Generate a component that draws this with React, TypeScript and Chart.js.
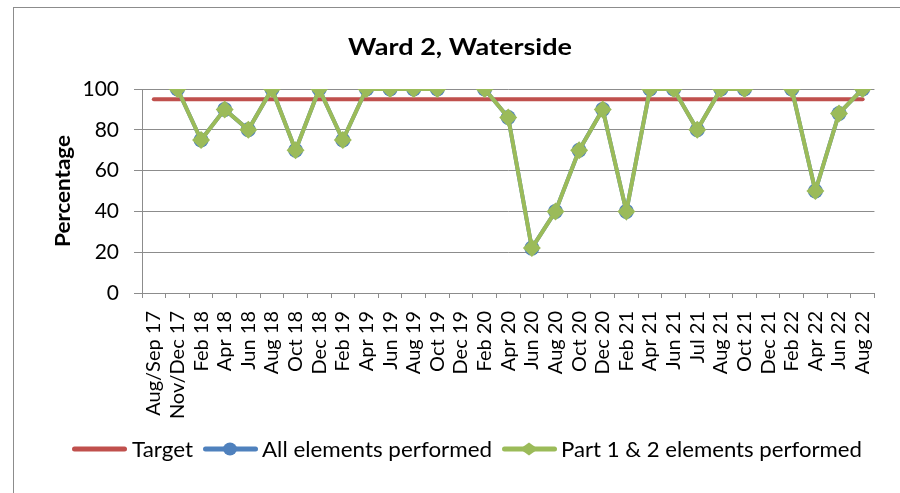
import React, { useEffect, useRef } from 'react';
import { Chart, registerables } from 'chart.js';

Chart.register(...registerables);

const chartTitle = 'Ward 2, Waterside';
const yAxisTitle = 'Percentage';

const categories = [
  'Aug/Sep 17', 'Nov/Dec 17', 'Feb 18', 'Apr 18', 'Jun 18', 'Aug 18', 'Oct 18', 'Dec 18',
  'Feb 19', 'Apr 19', 'Jun 19', 'Aug 19', 'Oct 19', 'Dec 19', 'Feb 20', 'Apr 20',
  'Jun 20', 'Aug 20', 'Oct 20', 'Dec 20', 'Feb 21', 'Apr 21', 'Jun 21', 'Jul 21',
  'Aug 21', 'Oct 21', 'Dec 21', 'Feb 22', 'Apr 22', 'Jun 22', 'Aug 22',
];

const targetValues = [
  95, 95, 95, 95, 95, 95, 95, 95, 95, 95, 95, 95, 95, 95, 95, 95,
  95, 95, 95, 95, 95, 95, 95, 95, 95, 95, 95, 95, 95, 95, 95,
];

const allElementsValues: (number | null)[] = [
  null, 100, 75, 90, 80, 100, 70, 100, 75, 100, 100, 100, 100, null, 100, 86,
  22, 40, 70, 90, 40, 100, 100, 80, 100, 100, null, 100, 50, 88, 100,
];

const part12Values: (number | null)[] = [
  null, 100, 75, 90, 80, 100, 70, 100, 75, 100, 100, 100, 100, null, 100, 86,
  22, 40, 70, 90, 40, 100, 100, 80, 100, 100, null, 100, 50, 88, 100,
];

const yTickValues = [0, 20, 40, 60, 80, 100];

const legendLabels = ['Target', 'All elements performed', 'Part 1 & 2 elements performed'];

const RED = '#C0504D';
const BLUE = '#4F81BD';
const GREEN = '#9BBB59';
const GRID = '#8C8C8C';

function fitText(ctx: CanvasRenderingContext2D, text: string, x: number, y: number, width: number) {
  const w = ctx.measureText(text).width;
  ctx.save();
  ctx.translate(x, y);
  ctx.scale(width / w, 1);
  ctx.fillText(text, 0, 0);
  ctx.restore();
}

const decorPlugin = {
  id: 'decor',
  afterDraw(chart: any) {
    const ctx: CanvasRenderingContext2D = chart.ctx;
    ctx.save();
    // outer border
    ctx.strokeStyle = GRID;
    ctx.lineWidth = 1;
    ctx.strokeRect(13.5, 7.5, 1000, 1000);

    // title
    ctx.fillStyle = '#000';
    ctx.font = 'bold 23px Lato';
    ctx.textAlign = 'center';
    ctx.textBaseline = 'alphabetic';
    fitText(ctx, chartTitle, 460, 55, 224);

    // y-axis title
    ctx.save();
    ctx.translate(70, 191);
    ctx.rotate(-Math.PI / 2);
    ctx.font = 'bold 20px Lato';
    ctx.textAlign = 'center';
    ctx.textBaseline = 'alphabetic';
    fitText(ctx, yAxisTitle, 0, 0, 112);
    ctx.restore();

    // legend
    const items = [
      { label: legendLabels[0], color: RED, marker: 'none', lineX: 72, textX: 132, textW: 61 },
      { label: legendLabels[1], color: BLUE, marker: 'circle', lineX: 203, textX: 262, textW: 230 },
      { label: legendLabels[2], color: GREEN, marker: 'diamond', lineX: 502, textX: 561, textW: 301 },
    ];
    const ly = 449;
    ctx.font = '22px Lato';
    ctx.textAlign = 'left';
    ctx.textBaseline = 'alphabetic';
    items.forEach((it) => {
      ctx.strokeStyle = it.color;
      ctx.lineWidth = 5;
      ctx.lineCap = 'round';
      ctx.beginPath();
      ctx.moveTo(it.lineX + 2.5, ly);
      ctx.lineTo(it.lineX + 52.5, ly);
      ctx.stroke();
      const cx = it.lineX + 27;
      ctx.fillStyle = it.color;
      if (it.marker === 'circle') {
        ctx.beginPath();
        ctx.ellipse(cx, ly, 7, 6.5, 0, 0, Math.PI * 2);
        ctx.fill();
      } else if (it.marker === 'diamond') {
        ctx.beginPath();
        ctx.moveTo(cx, ly - 6.5);
        ctx.lineTo(cx + 9, ly);
        ctx.lineTo(cx, ly + 6.5);
        ctx.lineTo(cx - 9, ly);
        ctx.closePath();
        ctx.fill();
      }
      ctx.fillStyle = '#000';
      fitText(ctx, it.label, it.textX, ly + 7.5, it.textW);
    });
    ctx.restore();
  },
};

export default function App() {
  const canvasRef = useRef<HTMLCanvasElement | null>(null);

  useEffect(() => {
    if (!canvasRef.current) return;
    const chart = new Chart(canvasRef.current, {
      type: 'line',
      data: {
        labels: categories,
        datasets: [
          {
            label: legendLabels[0],
            data: targetValues,
            borderColor: RED,
            backgroundColor: RED,
            borderWidth: 4,
            pointRadius: 0,
            borderCapStyle: 'round',
            order: 3,
          },
          {
            label: legendLabels[1],
            data: allElementsValues,
            borderColor: BLUE,
            backgroundColor: BLUE,
            borderWidth: 4,
            pointRadius: 7.5,
            pointStyle: 'circle',
            pointBorderWidth: 0,
            spanGaps: false,
            order: 2,
          },
          {
            label: legendLabels[2],
            data: part12Values,
            borderColor: GREEN,
            backgroundColor: GREEN,
            borderWidth: 4,
            borderJoinStyle: 'round',
            pointRadius: 9,
            pointStyle: 'rectRot',
            pointBorderWidth: 0,
            spanGaps: false,
            order: 1,
          },
        ],
      },
      options: {
        responsive: false,
        animation: false,
        layout: { padding: { left: 13, top: 89, right: 23, bottom: 40 } },
        plugins: {
          legend: { display: false },
          title: { display: false },
          tooltip: { enabled: false },
        },
        scales: {
          x: {
            offset: true,
            grid: {
              offset: true,
              drawOnChartArea: false,
              drawTicks: true,
              tickLength: 5,
              color: GRID,
            },
            border: { display: true, color: GRID },
            ticks: {
              autoSkip: false,
              maxRotation: 90,
              minRotation: 90,
              padding: 13,
              color: '#000',
              font: { family: 'Lato', size: 20 },
            },
            afterFit: (scale: any) => {
              scale.height = 160;
            },
          },
          y: {
            min: 0,
            max: 100,
            afterBuildTicks: (scale: any) => {
              scale.ticks = yTickValues.map((v) => ({ value: v }));
            },
            grid: { color: GRID, tickLength: 8 },
            border: { display: true, color: GRID },
            ticks: {
              padding: 15,
              color: '#000',
              font: { family: 'Lato', size: 21 },
            },
            afterFit: (scale: any) => {
              scale.width = 129;
            },
          },
        },
      },
      plugins: [decorPlugin],
    });
    return () => chart.destroy();
  }, []);

  return (
    <div style={{ position: 'absolute', left: 0, top: 0, width: 900, height: 493, background: '#fff' }}>
      <canvas ref={canvasRef} width={900} height={493} style={{ display: 'block' }} />
    </div>
  );
}
